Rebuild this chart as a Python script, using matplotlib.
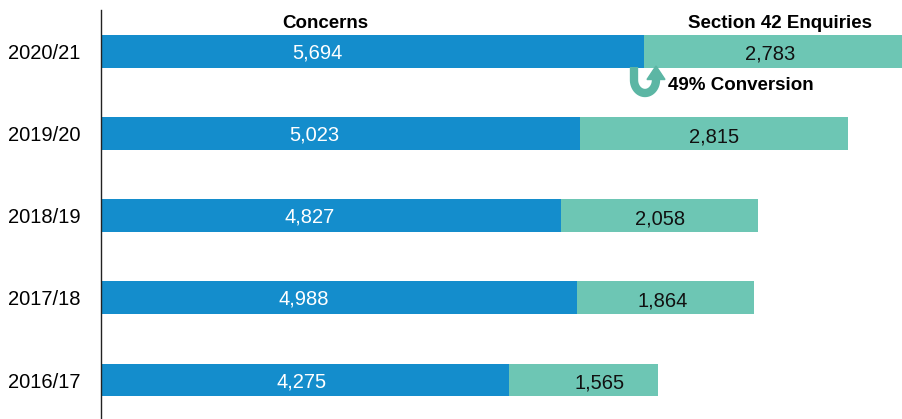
import numpy as np
import matplotlib.pyplot as plt
from matplotlib.patches import Polygon
from matplotlib.transforms import Affine2D

plt.rcParams['font.family'] = ['Liberation Sans', 'DejaVu Sans']

# data
years = ['2016/17', '2017/18', '2018/19', '2019/20', '2020/21']
concerns = [4275, 4988, 4827, 5023, 5694]
enquiries = [1565, 1864, 2058, 2815, 2783]
conversion_label = '49% Conversion'

# label positions (x in data units), as placed in the original
concern_label_x = [2108, 2129, 2192, 2234, 2265]
enquiry_label_x = [5233, 5894, 5862, 6428, 7016]

blue = '#148dcc'
green = '#6dc6b4'
arrow_col = '#5cb6a4'

fig = plt.figure(figsize=(9.03, 4.19), dpi=100)
ax = fig.add_axes([101 / 903, 0, 1 - 101 / 903, 409 / 419])

pos = list(range(len(years)))
ax.barh(pos, concerns, height=0.4, color=blue)
ax.barh(pos, enquiries, left=concerns, height=0.4, color=green)

for i in pos:
    ax.text(concern_label_x[i], i - 0.02, f'{concerns[i]:,}', color='white',
            fontsize=14.5, ha='center', va='center')
    ax.text(enquiry_label_x[i], i - 0.04, f'{enquiries[i]:,}', color='#111111',
            fontsize=14.5, ha='center', va='center')

ax.text(2349, 4.34, 'Concerns', fontsize=13.5, fontweight='bold',
        ha='center', va='center')
ax.text(7120, 4.34, 'Section 42 Enquiries', fontsize=13.5, fontweight='bold',
        ha='center', va='center')

# U-turn arrow under the latest year, drawn in pixel space (origin top-left)
px = Affine2D().scale(0.01, -0.01).translate(0, 4.19) + fig.dpi_scale_trans
t = np.linspace(np.pi, 2 * np.pi, 40)
cx, cy, rx, ry = 645, 80, 11, 13
ux = np.concatenate([[cx - rx], cx + rx * np.cos(t), [cx + rx]])
uy = np.concatenate([[67], cy - ry * np.sin(t), [79]])
ax.plot(ux, uy, color=arrow_col, lw=6, solid_capstyle='butt',
        transform=px, clip_on=False)
head = Polygon([[647, 79.5], [665, 79.5], [656, 66]], closed=True,
               color=arrow_col, transform=px, clip_on=False)
ax.add_patch(head)
ax.text(5946, 3.587, conversion_label, fontsize=13.5, fontweight='bold',
        ha='left', va='center')

ax.set_xlim(0, 8410)
ax.set_ylim(-0.474, 4.5)
ax.set_yticks(pos)
ax.set_yticklabels(years, fontsize=14.5)
ax.tick_params(axis='y', length=0, pad=15)
ax.set_xticks([])
for side in ['top', 'right', 'bottom']:
    ax.spines[side].set_visible(False)
ax.spines['left'].set_color('#222222')
ax.spines['left'].set_linewidth(1)

plt.savefig('out.png', dpi=100)
